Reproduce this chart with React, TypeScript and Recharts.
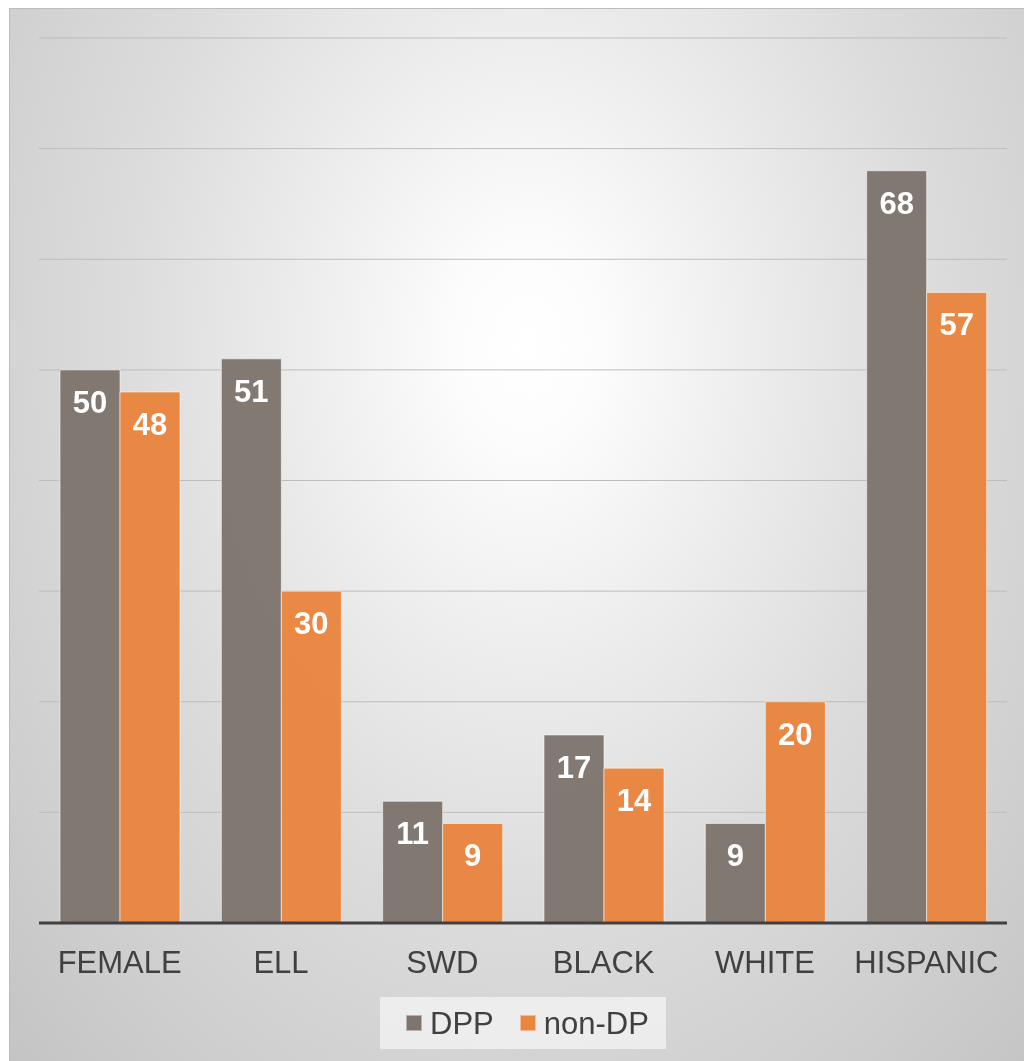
import { BarChart, Bar, XAxis, YAxis, CartesianGrid, Legend, LabelList } from 'recharts'

const categories = ['FEMALE', 'ELL', 'SWD', 'BLACK', 'WHITE', 'HISPANIC']
const dppValues = [50, 51, 11, 17, 9, 68]
const nonDpValues = [48, 30, 9, 14, 20, 57]
const yTicks = [0, 10, 20, 30, 40, 50, 60, 70, 80]

const data = categories.map((name, i) => ({
  name,
  dpp: dppValues[i],
  nonDp: nonDpValues[i],
}))

const FONT = '"Liberation Sans", Arial, sans-serif'
const DPP_COLOR = '#7e756e'
const NON_DP_COLOR = '#e8853f'
const TEXT_COLOR = '#404040'

function LegendSwatch({ color, label }: { color: string; label: string }) {
  return (
    <div style={{ display: 'flex', alignItems: 'center' }}>
      <span
        style={{
          width: 16,
          height: 16,
          background: color,
          boxSizing: 'border-box',
          border: '1px solid rgba(255,255,255,0.45)',
          marginRight: 8,
        }}
      />
      <span style={{ lineHeight: 1 }}>{label}</span>
    </div>
  )
}

function ChartLegend() {
  return (
    <div
      style={{
        width: 286,
        height: 52,
        boxSizing: 'border-box',
        paddingLeft: 26,
        display: 'flex',
        alignItems: 'center',
        gap: 26,
        background: 'rgba(246,246,246,0.7)',
        fontFamily: FONT,
        fontSize: 31,
        color: TEXT_COLOR,
      }}
    >
      <LegendSwatch color={DPP_COLOR} label="DPP" />
      <LegendSwatch color={NON_DP_COLOR} label="non-DP" />
    </div>
  )
}

export default function App() {
  return (
    <div
      style={{
        position: 'fixed',
        left: 9,
        top: 8,
        width: 1015,
        height: 1053,
        borderLeft: '1px solid #bdbdbd',
        borderTop: '1px solid #bdbdbd',
        background:
          'radial-gradient(ellipse farthest-corner at 51% 32%, #ffffff 0%, #fcfcfc 10%, #ececec 32%, #dcdcdc 55%, #d0d0d0 78%, #c4c4c4 100%)',
        fontFamily: FONT,
      }}
    >
      <BarChart
        width={1014}
        height={1052}
        data={data}
        margin={{ top: 29, right: 17, left: 29, bottom: 0 }}
        barSize={60}
        barGap={0}
      >
        <CartesianGrid vertical={false} stroke="#bdbdbd" strokeWidth={1} />
        <YAxis hide domain={[0, 80]} ticks={yTicks} />
        <XAxis
          dataKey="name"
          height={138}
          tickLine={false}
          tickSize={0}
          tickMargin={28}
          axisLine={{ stroke: '#404040', strokeWidth: 3 }}
          tick={{ fontSize: 31, fill: TEXT_COLOR, fontFamily: FONT }}
          interval={0}
        />
        <Legend
          verticalAlign="middle"
          align="center"
          content={() => <ChartLegend />}
          wrapperStyle={{ top: 988, left: 370, width: 286, height: 52 }}
        />
        <Bar
          dataKey="dpp"
          name="DPP"
          fill={DPP_COLOR}
          fillOpacity={0.97}
          stroke="rgba(255,255,255,0.55)"
          strokeWidth={1}
          isAnimationActive={false}
        >
          <LabelList
            dataKey="dpp"
            position="insideTop"
            offset={21}
            fill="#ffffff"
            fontSize={31}
            fontWeight="bold"
            fontFamily={FONT}
          />
        </Bar>
        <Bar
          dataKey="nonDp"
          name="non-DP"
          fill={NON_DP_COLOR}
          fillOpacity={0.97}
          stroke="rgba(255,255,255,0.55)"
          strokeWidth={1}
          isAnimationActive={false}
        >
          <LabelList
            dataKey="nonDp"
            position="insideTop"
            offset={21}
            fill="#ffffff"
            fontSize={31}
            fontWeight="bold"
            fontFamily={FONT}
          />
        </Bar>
      </BarChart>
    </div>
  )
}
